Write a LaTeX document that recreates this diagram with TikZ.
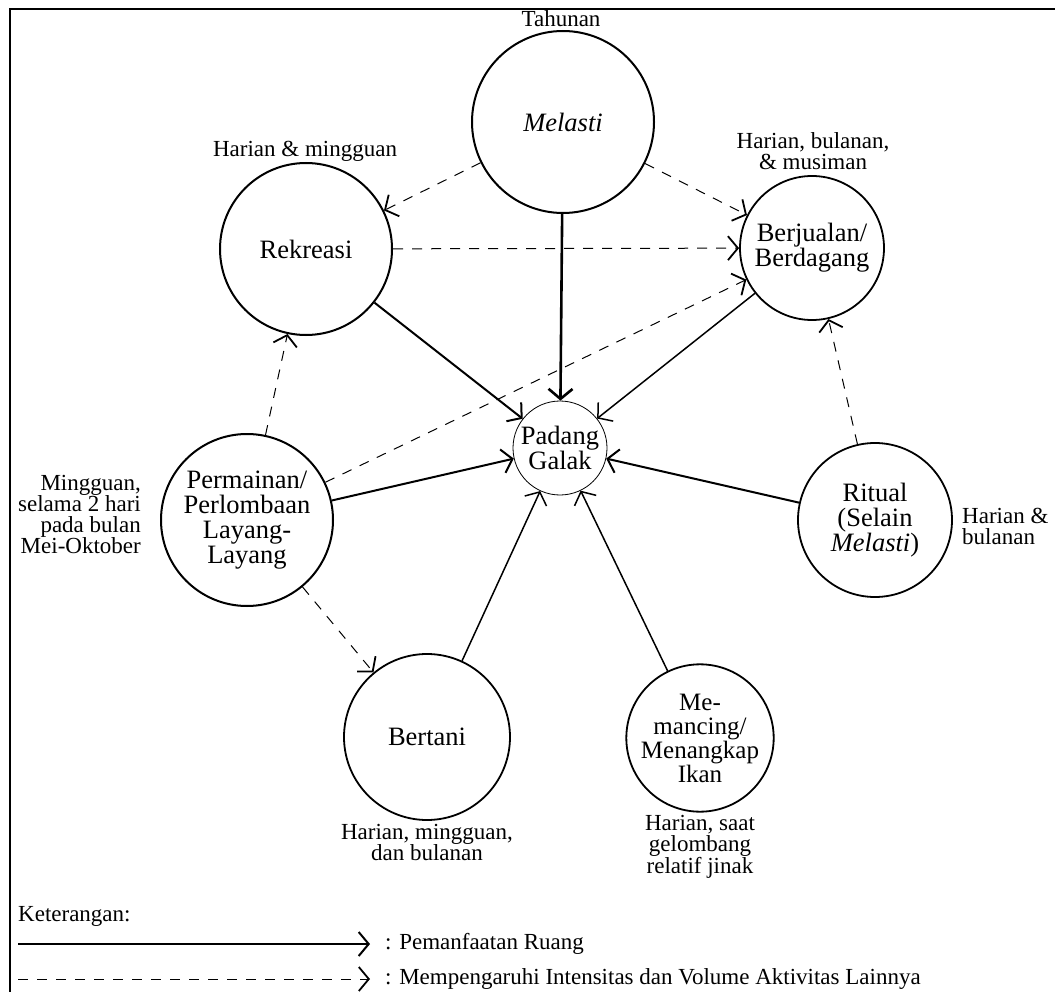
\documentclass[tikz,border=0pt]{standalone}
\usepackage{fontspec}
\setmainfont{Liberation Serif}
\usetikzlibrary{arrows.meta}
\tikzset{
  act/.style={circle, draw, line width=2pt, inner sep=0pt, align=center, font=\fontsize{26.5}{25}\selectfont},
  lbl/.style={align=center, inner sep=0pt, font=\fontsize{23}{21}\selectfont},
  sol/.style={line width=2pt, -{Straight Barb[length=10pt,width=24pt]}},
  dsh/.style={line width=1pt, dash pattern=on 10pt off 9pt, -{Straight Barb[length=10pt,width=24pt,line width=1.8pt]}},
  leg/.style={anchor=west, inner sep=0pt, font=\fontsize{23}{23}\selectfont}
}
\begin{document}
\begin{tikzpicture}[x=1pt,y=-1pt]
\useasboundingbox (0,0) rectangle (1055,992);
\fill[white] (0,0) rectangle (1055,992);
\draw[line width=2pt] (10,992) -- (10,9) -- (1055,9);

% activity circles
\node[act, minimum size=182pt] (mel) at (563,122) {\itshape Melasti};
\node[act, minimum size=172pt] (rek) at (306,249) {Rekreasi};
\node[act, minimum size=144pt, line width=1.8pt] (ber) at (812,248) {Berjualan/\\Berdagang};
\node[act, minimum size=94pt, line width=0.8pt] (pad) at (560,448) {Padang\\Galak};
\node[act, minimum size=172pt] (per) at (247,520) {Permainan/\\Perlombaan\\Layang-\\Layang};
\node[act, minimum size=154pt, line width=1.8pt] (rit) at (875,520) {Ritual\\(Selain\\\textit{Melasti})};
\node[act, minimum size=166pt, line width=1.8pt] (bet) at (427,737) {Bertani};
\node[act, minimum size=132pt, line width=1.8pt, font=\fontsize{25}{24}\selectfont] (man) at (700,738) {Me-\\mancing/\\Menangkap\\Ikan};

% time labels
\node[lbl] (lmel) at (561,19) {Tahunan};
\node[lbl] (lrek) at (305,151) {Harian \& mingguan};
\node[lbl] (lber) at (813,151) {Harian, bulanan,\\\& musiman};
\node[lbl, align=right, anchor=east] (lper) at (141,514) {Mingguan,\\selama 2 hari\\pada bulan\\Mei-Oktober};
\node[lbl, align=left, anchor=west] (lrit) at (962,526) {Harian \&\\bulanan};
\node[lbl] (lbet) at (427,842) {Harian, mingguan,\\dan bulanan};
\node[lbl] (lman) at (700,847) {Harian, saat\\gelombang\\relatif jinak};

% space use arrows
\draw[sol, line width=2.6pt] (mel) -- (pad);
\draw[sol] (rek) -- (pad);
\draw[sol, line width=1.5pt] (ber) -- (pad);
\draw[sol] (per) -- (pad);
\draw[sol] (rit) -- (pad);
\draw[sol, line width=1.5pt] (bet) -- (pad);
\draw[sol, line width=1.5pt] (man) -- (pad);

% influence arrows
\draw[dsh] (mel) -- (rek);
\draw[dsh] (mel) -- (ber);
\draw[dsh] (rek) -- (ber);
\draw[dsh] (per) -- (ber);
\draw[dsh] (per) -- (rek);
\draw[dsh] (per) -- (bet);
\draw[dsh] (rit) -- (ber);

% legend
\node[leg] (ket) at (18,916) {Keterangan:};
\coordinate (s1) at (18,944);
\coordinate (s2) at (370,944);
\coordinate (d1) at (18,979);
\coordinate (d2) at (370,979);
\draw[sol] (s1) -- (s2);
\draw[dsh] (d1) -- (d2);
\node[leg] (t1) at (385,944) {: Pemanfaatan Ruang};
\node[leg] (t2) at (385,979) {: Mempengaruhi Intensitas dan Volume Aktivitas Lainnya};
\end{tikzpicture}
\end{document}
